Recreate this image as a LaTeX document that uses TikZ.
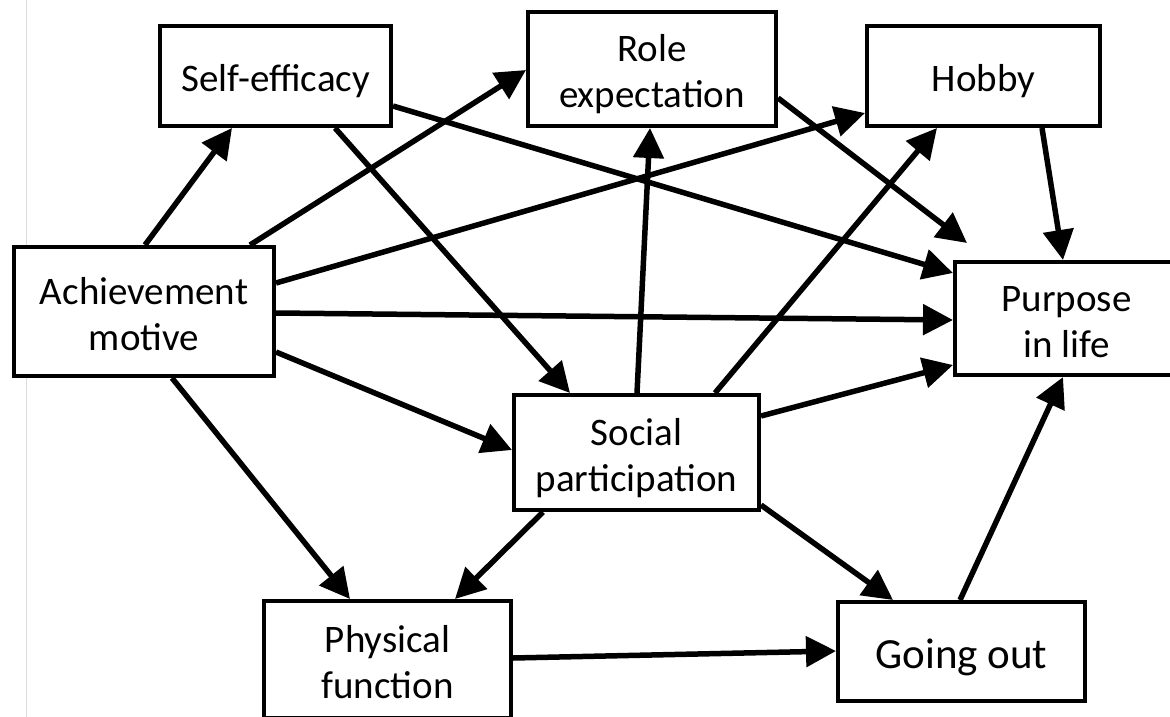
\documentclass[tikz,border=0pt]{standalone}
\usepackage{fontspec}
\setmainfont{Carlito}
\usetikzlibrary{arrows.meta}
\begin{document}
\begin{tikzpicture}[x=1pt,y=-1pt,
  box/.style={draw, line width=4pt, fill=white, inner sep=0pt,
    font=\fontsize{39pt}{46pt}\selectfont},
  oneline/.style={text height=32pt, text depth=0pt},
  twoline/.style={align=center, text height=77pt, text depth=0pt},
  conn/.style={line width=5.5pt, -{Triangle[length=30pt,width=30pt]}}]
\useasboundingbox[fill=white] (0,0) rectangle (1170,717);
\draw[line width=1pt, black!14] (26.7,0) -- (26.7,717);
% boxes
\node[box,oneline,minimum width=231pt,minimum height=100pt] (se) at (275.5,76) {Self-efficacy};
\node[box,twoline,minimum width=248pt,minimum height=114pt] (re) at (652,69) {Role\\expectation};
\node[box,oneline,minimum width=233pt,minimum height=100pt] (hb) at (983.5,76) {Hobby};
\node[box,twoline,minimum width=260pt,minimum height=129pt] (am) at (144,311.5) {Achievement\\motive};
\node[box,twoline,minimum width=223pt,minimum height=113pt] (pl) at (1066.5,318.5) {Purpose\\in life};
\node[box,twoline,minimum width=245pt,minimum height=115pt] (sp) at (636.5,452.5) {Social\\participation};
\node[box,twoline,minimum width=247pt,minimum height=117pt] (pf) at (387.5,659.5) {Physical\\function};
\node[box,oneline,font=\fontsize{43pt}{50pt}\selectfont,text height=33pt,minimum width=247pt,minimum height=99pt] (go) at (961.5,651.5) {Going out};
% connectors
\draw[conn] ([xshift=1pt]am.north) -- ([xshift=-43.5pt]se.south);
\draw[conn] ([xshift=106pt]am.north) -- ([yshift=-1pt]re.west);
\draw[conn] ([yshift=28.5pt]am.east) -- ([yshift=-37pt]hb.west);
\draw[conn] ([yshift=-1.5pt]am.east) -- ([yshift=-1.5pt]pl.west);
\draw[conn] ([yshift=-40.5pt]am.east) -- ([yshift=2.5pt]sp.west);
\draw[conn] ([xshift=28pt]am.south) -- ([xshift=-37.5pt]pf.north);
\draw[conn] ([xshift=59.5pt]se.south) -- ([xshift=-66.5pt]sp.north);
\draw[conn] ([yshift=-30pt]se.east) -- ([yshift=45.5pt]pl.west);
\draw[conn] ([yshift=-29pt]re.east) -- ([xshift=14pt,yshift=17pt]pl.north west);
\draw[conn] ([xshift=58.5pt]hb.south) -- ([xshift=-3.5pt]pl.north);
\draw[conn] ([xshift=0.5pt]sp.north) -- ([xshift=-2pt]re.south);
\draw[conn] ([xshift=78.5pt]sp.north) -- ([xshift=-46.5pt]hb.south);
\draw[conn] ([yshift=36.5pt]sp.east) -- ([yshift=-46.5pt]pl.west);
\draw[conn] ([xshift=-93.5pt]sp.south) -- ([xshift=67.5pt]pf.north);
\draw[conn] ([yshift=-52.5pt]sp.east) -- ([xshift=-68.5pt]go.north);
\draw[conn] ([yshift=1.5pt]pf.east) -- ([yshift=0.5pt]go.west);
\draw[conn] ([xshift=-1.5pt]go.north) -- ([xshift=-3.5pt]pl.south);
\end{tikzpicture}
\end{document}
